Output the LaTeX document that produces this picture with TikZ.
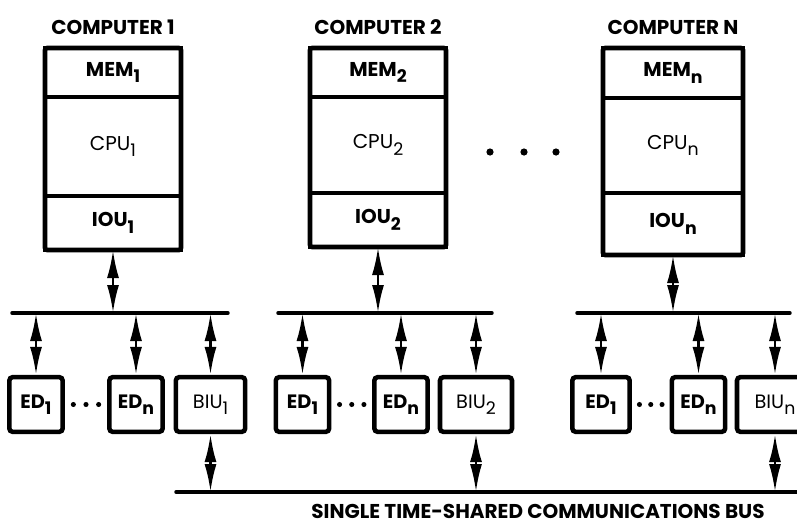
\documentclass[tikz,border=0pt]{standalone}
\usepackage{fontspec}
\setmainfont{Poppins}
\usetikzlibrary{arrows.meta,calc,positioning}
\newcommand{\subtxt}[1]{\raisebox{-0.6ex}{\fontsize{13}{13}\selectfont #1}}

\begin{document}
\begin{tikzpicture}[x=0.75pt,y=-0.75pt,
  title/.style={font=\fontsize{15}{16}\selectfont\bfseries,inner sep=0pt},
  part/.style={draw,line width=2.4pt,outer sep=0pt,minimum width=102pt,font=\fontsize{15}{16}\selectfont},
  frame/.style={line width=3.4pt,rounded corners=1.5pt},
  dev/.style={draw,line width=3.4pt,rounded corners=2.5pt,minimum width=40pt,minimum height=41pt,inner sep=0pt,font=\fontsize{14.5}{16}\selectfont},
  bus/.style={line width=2.6pt,line cap=round},
  dbl/.style={line width=2pt,{Latex[length=21pt,width=9pt]}-{Latex[length=21pt,width=9pt]}}]
  \useasboundingbox (0,0) rectangle (797,525);
  \clip (0,0) rectangle (797,525);
  % computer 1
  \begin{scope}[shift={(113,0)}]
    \node[title] (tit1) at (0,27) {COMPUTER 1};
    \node[part,minimum height=36.75pt] (mem1) at (0,72.5) {\bfseries MEM\subtxt{1}};
    \node[part,minimum height=74.25pt,below=0pt of mem1] (cpu1) {CPU\subtxt{1}};
    \node[part,minimum height=40.5pt,below=0pt of cpu1] (iou1) {\bfseries IOU\subtxt{1}};
    \draw[frame] (mem1.north west) rectangle (iou1.south east);
    \coordinate (lb1l) at (-101,313);
    \coordinate (lb1r) at (115,313);
    \draw[bus] (lb1l) -- (lb1r);
    \draw[dbl] (iou1.south) -- (iou1.south |- lb1l);
    \node[dev] (eda1) at (-77,404.5) {\bfseries ED\subtxt{1}};
    \node[dev] (edb1) at (23,404.5) {\bfseries ED\subtxt{n}};
    \node[dev,minimum width=52pt] (biu1) at (97.5,404.5) {BIU\subtxt{1}};
    \foreach \p in {0.2,0.5,0.8}
      \fill ($(eda1.east)!\p!(edb1.west)$) circle (1.9pt);
    \draw[dbl] (eda1.north |- lb1l) -- (eda1.north);
    \draw[dbl] (edb1.north |- lb1l) -- (edb1.north);
    \draw[dbl] (biu1.north |- lb1l) -- (biu1.north);
  \end{scope}
  % computer 2
  \begin{scope}[shift={(378,0)}]
    \node[title] (tit2) at (0,27) {COMPUTER 2};
    \node[part,minimum height=36.75pt] (mem2) at (0,72.5) {\bfseries MEM\subtxt{2}};
    \node[part,minimum height=72pt,below=0pt of mem2] (cpu2) {CPU\subtxt{2}};
    \node[part,minimum height=40.5pt,below=0pt of cpu2] (iou2) {\bfseries IOU\subtxt{2}};
    \draw[frame] (mem2.north west) rectangle (iou2.south east);
    \coordinate (lb2l) at (-100,313);
    \coordinate (lb2r) at (114,313);
    \draw[bus] (lb2l) -- (lb2r);
    \draw[dbl] (iou2.south) -- (iou2.south |- lb2l);
    \node[dev] (eda2) at (-75.5,404.5) {\bfseries ED\subtxt{1}};
    \node[dev] (edb2) at (23,404.5) {\bfseries ED\subtxt{n}};
    \node[dev,minimum width=54pt] (biu2) at (98,404.5) {BIU\subtxt{2}};
    \foreach \p in {0.2,0.5,0.8}
      \fill ($(eda2.east)!\p!(edb2.west)$) circle (1.9pt);
    \draw[dbl] (eda2.north |- lb2l) -- (eda2.north);
    \draw[dbl] (edb2.north |- lb2l) -- (edb2.north);
    \draw[dbl] (biu2.north |- lb2l) -- (biu2.north);
  \end{scope}
  % computer n
  \begin{scope}[shift={(673,0)}]
    \node[title] (tit3) at (0,27) {COMPUTER N};
    \node[part,minimum height=37.5pt,minimum width=105pt] (mem3) at (0,73) {\bfseries MEM\subtxt{n}};
    \node[part,minimum height=71.25pt,minimum width=105pt,below=0pt of mem3] (cpu3) {CPU\subtxt{n}};
    \node[part,minimum height=46.5pt,minimum width=105pt,below=0pt of cpu3] (iou3) {\bfseries IOU\subtxt{n}};
    \draw[frame] (mem3.north west) rectangle (iou3.south east);
    \coordinate (lb3l) at (-96,313);
    \coordinate (lb3r) at (117,313);
    \draw[bus] (lb3l) -- (lb3r);
    \draw[dbl] (iou3.south) -- (iou3.south |- lb3l);
    \node[dev,minimum width=43pt] (eda3) at (-72,404.5) {\bfseries ED\subtxt{1}};
    \node[dev] (edb3) at (25.5,404.5) {\bfseries ED\subtxt{n}};
    \node[dev,minimum width=57pt] (biu3) at (102,404.5) {BIU\subtxt{n}};
    \foreach \p in {0.2,0.5,0.8}
      \fill ($(eda3.east)!\p!(edb3.west)$) circle (1.9pt);
    \draw[dbl] (eda3.north |- lb3l) -- (eda3.north);
    \draw[dbl] (edb3.north |- lb3l) -- (edb3.north);
    \draw[dbl] (biu3.north |- lb3l) -- (biu3.north);
  \end{scope}
  % between the computers
  \fill (490,152) circle (2.7pt);
  \fill (524,152) circle (2.7pt);
  \fill (556,152) circle (2.7pt);
  % shared bus
  \coordinate (cbl) at (176,492);
  \coordinate (cbr) at (810,492);
  \draw[bus] (cbl) -- (cbr);
  \draw[dbl] (biu1.south) -- (biu1.south |- cbl);
  \draw[dbl] (biu2.south) -- (biu2.south |- cbl);
  \draw[dbl] (biu3.south) -- (biu3.south |- cbl);
  \node[title,anchor=base] (cblab) at (538,518) {SINGLE TIME-SHARED COMMUNICATIONS BUS};
\end{tikzpicture}
\end{document}
